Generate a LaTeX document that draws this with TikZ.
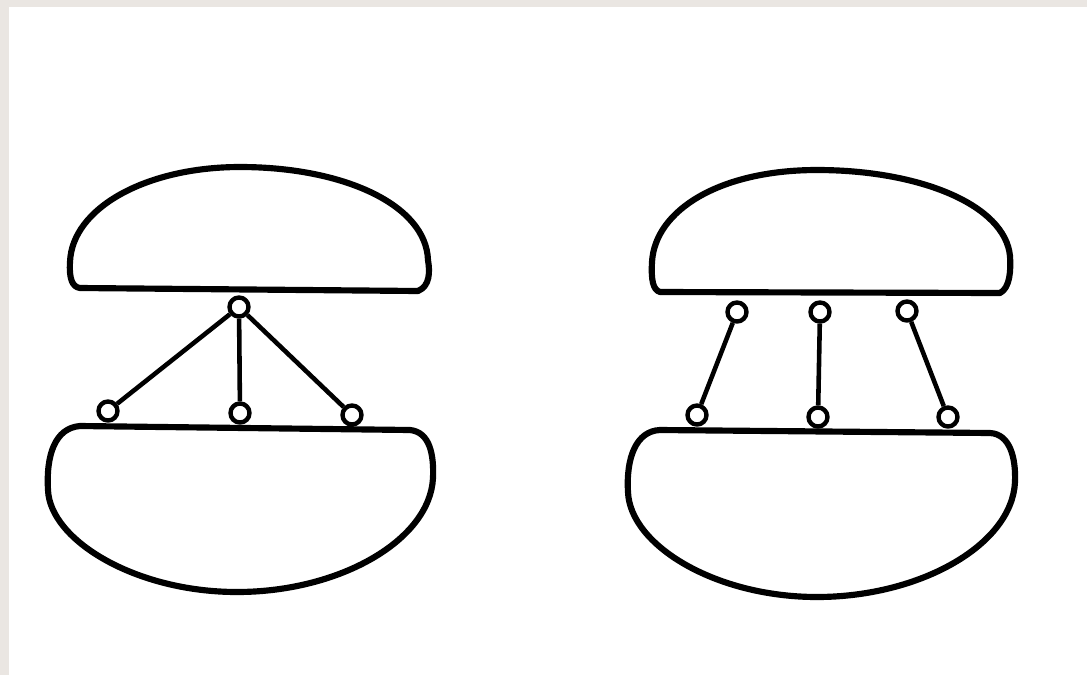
\documentclass[tikz,border=0pt]{standalone}
\definecolor{paper}{HTML}{EAE6E2}

\begin{document}
\begin{tikzpicture}[x=0.01cm, y=-0.01cm, line join=round,
    lens/.style={draw, line width=1.75pt},
    pin/.style={circle, draw, fill=white, line width=1.25pt, inner sep=0pt, minimum size=0.19cm},
    link/.style={line width=1.3pt}]
    \useasboundingbox (0,0) rectangle (1087,675);
    \fill[paper] (0,0) rectangle (1087,675);
    \fill[white] (9,7) rectangle (1087,675);

    % linke Seite
    \draw[lens] (80,288) -- (418,291) .. controls (430,286) and (430,272) .. (428,260)
        .. controls (426,205) and (344,167) .. (240,167)
        .. controls (146,167) and (72,208) .. (70,262)
        .. controls (69,278) and (72,287) .. (80,288) -- cycle;
    \draw[lens] (80,426) -- (410,430) .. controls (430,432) and (434,455) .. (433,478)
        .. controls (430,540) and (340,592) .. (237,592)
        .. controls (135,592) and (50,540) .. (48,490)
        .. controls (46,455) and (55,428) .. (80,426) -- cycle;

    \node[pin] (top-l) at (239,307) {};
    \node[pin] (l1) at (108,411) {};
    \node[pin] (l2) at (240,413) {};
    \node[pin] (l3) at (352,415) {};
    \draw[link] (top-l) -- (l1);
    \draw[link] (top-l) -- (l2);
    \draw[link] (top-l) -- (l3);

    % rechte Seite
    \draw[lens] (660,292) -- (1000,293) .. controls (1010,288) and (1011,270) .. (1010,256)
        .. controls (1005,205) and (920,170) .. (817,170)
        .. controls (720,170) and (655,210) .. (652,262)
        .. controls (651,280) and (653,290) .. (660,292) -- cycle;
    \draw[lens] (660,430) -- (990,433) .. controls (1010,434) and (1016,458) .. (1015,482)
        .. controls (1012,545) and (920,597) .. (817,597)
        .. controls (715,597) and (630,545) .. (628,492)
        .. controls (626,458) and (636,431) .. (660,430) -- cycle;

    \node[pin] (t1) at (737,312) {};
    \node[pin] (t2) at (820,312) {};
    \node[pin] (t3) at (907,311) {};
    \node[pin] (b1) at (697,415) {};
    \node[pin] (b2) at (818,417) {};
    \node[pin] (b3) at (948,417) {};
    \draw[link] (t1) -- (b1);
    \draw[link] (t2) -- (b2);
    \draw[link] (t3) -- (b3);
\end{tikzpicture}
\end{document}
